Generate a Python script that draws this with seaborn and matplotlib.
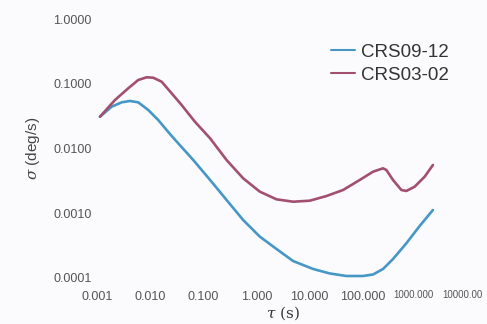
import matplotlib
matplotlib.use("Agg")
import matplotlib.pyplot as plt
import matplotlib.transforms as mtransforms
import pandas as pd
import seaborn as sns

# values (tau in s, sigma in deg/s)
tau_a = [0.001138, 0.001888, 0.002911, 0.004169, 0.005970, 0.009204, 0.01419,
         0.02188, 0.03148, 0.06486, 0.1343, 0.2742, 0.5623, 1.159, 2.388,
         4.898, 11.69, 23.99, 49.43, 101.4, 156.3, 241.0, 371.5, 662.2,
         1178, 2094]
sigma_a = [0.03097, 0.04426, 0.05164, 0.05420, 0.05164, 0.03936, 0.02754,
           0.01800, 0.01280, 0.006637, 0.003266, 0.001603, 0.000787,
           0.000435, 0.0002805, 0.0001828, 0.0001377, 0.0001175, 0.0001074,
           0.0001074, 0.0001132, 0.0001377, 0.0001963, 0.0003436,
           0.0006353, 0.001122]

tau_b = [0.001138, 0.002178, 0.003873, 0.005970, 0.008590, 0.01143, 0.01644,
         0.02535, 0.03908, 0.06950, 0.1343, 0.2742, 0.5623, 1.159, 2.388,
         4.898, 10.09, 20.80, 42.66, 87.90, 156.3, 241.0, 278.6, 371.5,
         533.3, 662.2, 948.4, 1462, 2094]
sigma_b = [0.03097, 0.05610, 0.08511, 0.1143, 0.1259, 0.1239, 0.1076,
           0.07129, 0.04699, 0.02594, 0.01436, 0.006637, 0.003467, 0.002153,
           0.001641, 0.001507, 0.001563, 0.001845, 0.002286, 0.003266,
           0.004385, 0.004943, 0.004656, 0.003266, 0.002286, 0.002208,
           0.002570, 0.003664, 0.005559]

series_names = ["CRS09-12", "CRS03-02"]
x_ticks = [0.001, 0.01, 0.1, 1, 10, 100, 1000, 10000]
x_labels = ["0.001", "0.010", "0.100", "1.000", "10.000", "100.000",
            "1000.000", "10000.00"]
y_ticks = [0.0001, 0.001, 0.01, 0.1, 1.0]
y_labels = ["0.0001", "0.0010", "0.0100", "0.1000", "1.0000"]

df = pd.concat([
    pd.DataFrame({"tau": tau_a, "sigma": sigma_a, "series": series_names[0]}),
    pd.DataFrame({"tau": tau_b, "sigma": sigma_b, "series": series_names[1]}),
])

sns.set_theme(style="white")
plt.rcParams["font.family"] = ["Liberation Sans", "DejaVu Sans"]
plt.rcParams["mathtext.fontset"] = "dejavuserif"

fig = plt.figure(figsize=(4.87, 3.24), dpi=100)
fig.patch.set_facecolor("#fbfbfd")
ax = fig.add_axes([97 / 487, 1 - 278 / 324, 372 / 487, 259 / 324])
ax.set_facecolor("#fbfbfd")

sns.lineplot(data=df, x="tau", y="sigma", hue="series", sort=False,
             palette=["#4797c6", "#a34f70"], linewidth=1.9, ax=ax)

ax.set_xscale("log")
ax.set_yscale("log")
ax.set_xlim(0.001, 10000)
ax.set_ylim(0.0001, 1.0)
ax.set_xticks(x_ticks)
ax.set_xticklabels(x_labels)
ax.set_yticks(y_ticks)
ax.set_yticklabels(y_labels)
ax.minorticks_off()
ax.tick_params(axis="both", length=0, colors="#555555", labelsize=9)
ax.tick_params(axis="x", pad=9)
ax.tick_params(axis="y", pad=4)

# the last two x labels are squeezed in the original
xlabs = ax.get_xticklabels()
for lab, shift in zip(xlabs[-2:], [-2, -7]):
    lab.set_fontsize(7)
    lab.set_transform(lab.get_transform() +
                      mtransforms.ScaledTranslation(shift / 100, 0, fig.dpi_scale_trans))
for s in ax.spines.values():
    s.set_visible(False)

ax.set_xlabel(r"$\tau$ (s)", family="DejaVu Serif", fontsize=11,
              color="#333333", labelpad=1)
ax.set_ylabel(r"$\sigma$ (deg/s)", fontsize=11, color="#444444", labelpad=8)

leg = ax.legend(loc="upper right", bbox_to_anchor=(0.99, 0.97), frameon=False,
                fontsize=13.5, handlelength=1.3, handletextpad=0.3,
                labelspacing=0.3, labelcolor="#333333")
for line in leg.get_lines():
    line.set_linewidth(1.5)

plt.savefig("out.png", dpi=100, facecolor=fig.get_facecolor())
